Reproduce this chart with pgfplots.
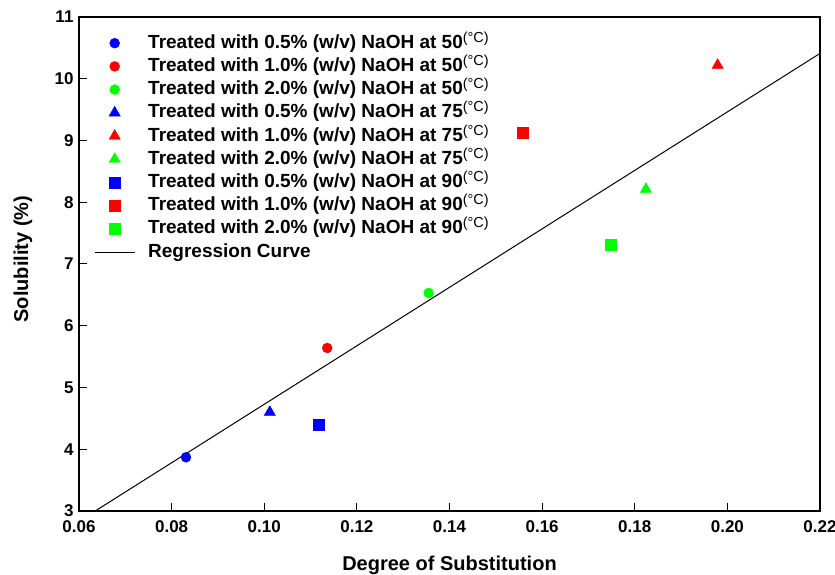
\documentclass[border=0pt]{standalone}
\usepackage{pgfplots}
\pgfplotsset{compat=1.18}
\usepackage{fontspec}
\setmainfont{Liberation Sans}
\newcommand{\dg}{\raisebox{6pt}{\fontsize{14.5}{14}\selectfont\mdseries(°C)}}
\begin{document}
\begin{tikzpicture}
\begin{axis}[
  at={(0,0)}, anchor=south west,
  scale only axis, width=741pt, height=494pt,
  xmin=0.06, xmax=0.22, ymin=3, ymax=11,
  xtick={0.06,0.08,0.10,0.12,0.14,0.16,0.18,0.20,0.22},
  ytick={3,4,5,6,7,8,9,10,11},
  tick align=inside, xtick pos=bottom, ytick pos=left,
  major tick length=8pt,
  axis line style={line width=1.2pt},
  every tick/.style={black, line width=1pt},
  /pgf/number format/assume math mode=true,
  xticklabel shift=6pt,
  yticklabel shift=2pt,
  xticklabel style={font=\fontsize{17}{20}\selectfont\bfseries,
    /pgf/number format/.cd, fixed, fixed zerofill, precision=2},
  yticklabel style={font=\fontsize{17}{20}\selectfont\bfseries},
  xlabel={Degree of Substitution},
  ylabel={Solubility (\%)},
  label style={font=\fontsize{20}{24}\selectfont\bfseries},
  xlabel style={at={(axis description cs:0.5,-0.1093)}, anchor=center},
  ylabel style={at={(axis description cs:-0.0756,0.51)}, anchor=center},
  legend cell align=left,
  legend style={draw=none, fill=none, at={(axis description cs:0,1)}, anchor=north west,
    xshift=12pt, yshift=-14pt, font=\fontsize{19}{20}\selectfont\bfseries,
    nodes={inner sep=0pt, text height=15pt, text depth=5pt}, row sep=3.2pt, column sep=13pt},
  legend image code/.code={\draw[#1] plot coordinates {(20pt,0pt)};},
]
\addplot[only marks, mark=*, mark size=5pt, draw=blue, fill=blue] coordinates {(0.0831,3.87)};
\addlegendentry{Treated with 0.5\% (w/v) NaOH at 50\dg}
\addplot[only marks, mark=*, mark size=5pt, draw=red, fill=red] coordinates {(0.1136,5.64)};
\addlegendentry{Treated with 1.0\% (w/v) NaOH at 50\dg}
\addplot[only marks, mark=*, mark size=5pt, draw=green, fill=green] coordinates {(0.1355,6.53)};
\addlegendentry{Treated with 2.0\% (w/v) NaOH at 50\dg}
\addplot[only marks, mark=triangle*, mark size=6.5pt, draw=blue, fill=blue] coordinates {(0.1012,4.60)};
\addlegendentry{Treated with 0.5\% (w/v) NaOH at 75\dg}
\addplot[only marks, mark=triangle*, mark size=6.5pt, draw=red, fill=red] coordinates {(0.1979,10.22)};
\addlegendentry{Treated with 1.0\% (w/v) NaOH at 75\dg}
\addplot[only marks, mark=triangle*, mark size=6.5pt, draw=green, fill=green] coordinates {(0.1824,8.21)};
\addlegendentry{Treated with 2.0\% (w/v) NaOH at 75\dg}
\addplot[only marks, mark=square*, mark size=5.5pt, draw=blue, fill=blue] coordinates {(0.1118,4.40)};
\addlegendentry{Treated with 0.5\% (w/v) NaOH at 90\dg}
\addplot[only marks, mark=square*, mark size=5.5pt, draw=red, fill=red] coordinates {(0.1559,9.12)};
\addlegendentry{Treated with 1.0\% (w/v) NaOH at 90\dg}
\addplot[only marks, mark=square*, mark size=5.5pt, draw=green, fill=green] coordinates {(0.1747,7.32)};
\addlegendentry{Treated with 2.0\% (w/v) NaOH at 90\dg}
\addplot[black, line width=1pt, legend image code/.code={\draw[black, line width=1pt] (0pt,0pt) -- (40pt,0pt);}] coordinates {(0.0635,3) (0.22,10.41)};
\addlegendentry{Regression Curve}
\end{axis}
\pgfresetboundingbox
\path[use as bounding box] (-79pt,-64pt) rectangle (756pt,511pt);
\end{tikzpicture}
\end{document}
